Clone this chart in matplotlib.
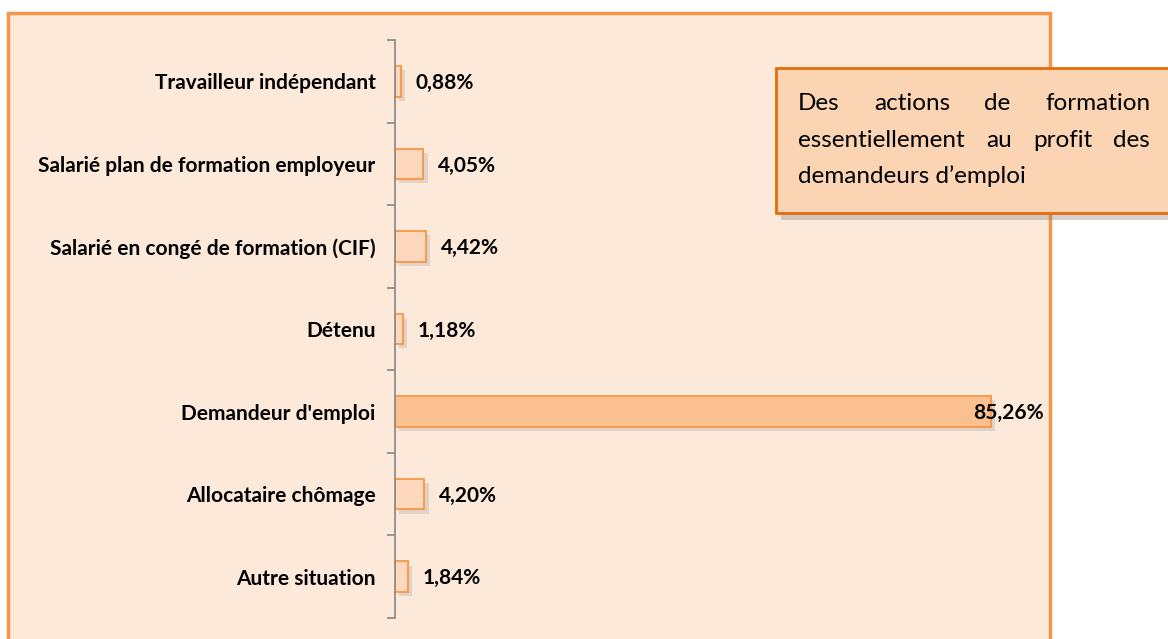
import matplotlib.pyplot as plt
from matplotlib.patches import Rectangle

# data (top to bottom as in the chart)
categories = ['Travailleur indépendant', 'Salarié plan de formation employeur',
              'Salarié en congé de formation (CIF)', 'Détenu', "Demandeur d'emploi",
              'Allocataire chômage', 'Autre situation']
values = [0.88, 4.05, 4.42, 1.18, 85.26, 4.20, 1.84]
note_lines = [['Des', 'actions', 'de', 'formation'],
              ['essentiellement', 'au', 'profit', 'des'],
              ['demandeurs d’emploi']]

plt.rcParams['font.family'] = ['Lato', 'DejaVu Sans']

W, H = 1168, 639
fig = plt.figure(figsize=(W / 100, H / 100), dpi=100)
fig.patch.set_facecolor('white')

# chart area frame
fig.patches.append(Rectangle((8 / W, -0.05), (1050 - 8) / W, 1.05 - 13 / H,
                             transform=fig.transFigure, facecolor='#FDE9DA',
                             edgecolor='#F79646', linewidth=2.5, zorder=-1))

ax = fig.add_axes([395 / W, 1 - 618 / H, (1045 - 395) / W, (618 - 40) / H])
ax.set_facecolor('none')
ax.set_zorder(1)

n = len(categories)
ypos = list(range(n))[::-1]
xmax = 93
bar_h = 0.37

# soft shadows
for y, v in zip(ypos, values):
    ax.barh(y - 0.05, v, height=bar_h, left=0.6, color='#7f7f7f', alpha=0.22,
            linewidth=0, zorder=1)

colors = ['#FAC090' if v > 50 else '#FDD8BC' for v in values]
ax.barh(ypos, values, height=bar_h, color=colors, edgecolor='#F79646',
        linewidth=1.3, zorder=2)

for y, v in zip(ypos, values):
    lbl = f'{v:.2f}%'.replace('.', ',')
    if v > 50:
        ax.text(xmax - 0.2, y - 0.02, lbl, ha='right', va='center', fontsize=15,
                fontweight='bold', zorder=3)
    else:
        ax.text(v + 2.1, y - 0.02, lbl, ha='left', va='center', fontsize=15,
                fontweight='bold', zorder=3)

ax.set_xlim(0, xmax)
ax.set_ylim(-0.5, n - 0.5)
ax.set_yticks(ypos)
ax.set_yticklabels(categories, fontsize=15, fontweight='bold')
ax.set_yticks([i - 0.5 for i in range(n + 1)], minor=True)
ax.tick_params(axis='y', which='major', length=0, pad=14)
ax.tick_params(axis='y', which='minor', length=6, color='#868686', width=1.2)
ax.set_xticks([])
for s in ['top', 'right', 'bottom']:
    ax.spines[s].set_visible(False)
ax.spines['left'].set_color('#868686')
ax.spines['left'].set_linewidth(1.2)

# note box with shadow
bx0, by0, bx1, by1 = 776, 68, 1175, 213
fig.patches.append(Rectangle(((bx0 + 5) / W, 1 - (by1 + 7) / H), (bx1 - bx0) / W,
                             (by1 - by0) / H, transform=fig.transFigure,
                             facecolor='#808080', alpha=0.35, linewidth=0, zorder=3))
fig.patches.append(Rectangle((bx0 / W, 1 - by1 / H), (bx1 - bx0) / W, (by1 - by0) / H,
                             transform=fig.transFigure, facecolor='#FBD4B4',
                             edgecolor='#E46C0A', linewidth=2, zorder=4))

# justified text
renderer = fig.canvas.get_renderer()
tx0, tx1 = 798, 1150
line_y = [103, 140, 176]
for words, ly in zip(note_lines, line_y):
    arts = [fig.text(0, 1 - ly / H, w, fontsize=17.5, va='center', ha='left', zorder=5)
            for w in words]
    widths = [a.get_window_extent(renderer).width for a in arts]
    if len(words) > 1:
        gap = (tx1 - tx0 - sum(widths)) / (len(words) - 1)
    else:
        gap = 0
    x = tx0
    for a, wd in zip(arts, widths):
        a.set_x(x / W)
        x += wd + gap

fig.savefig('out.png', dpi=100)
